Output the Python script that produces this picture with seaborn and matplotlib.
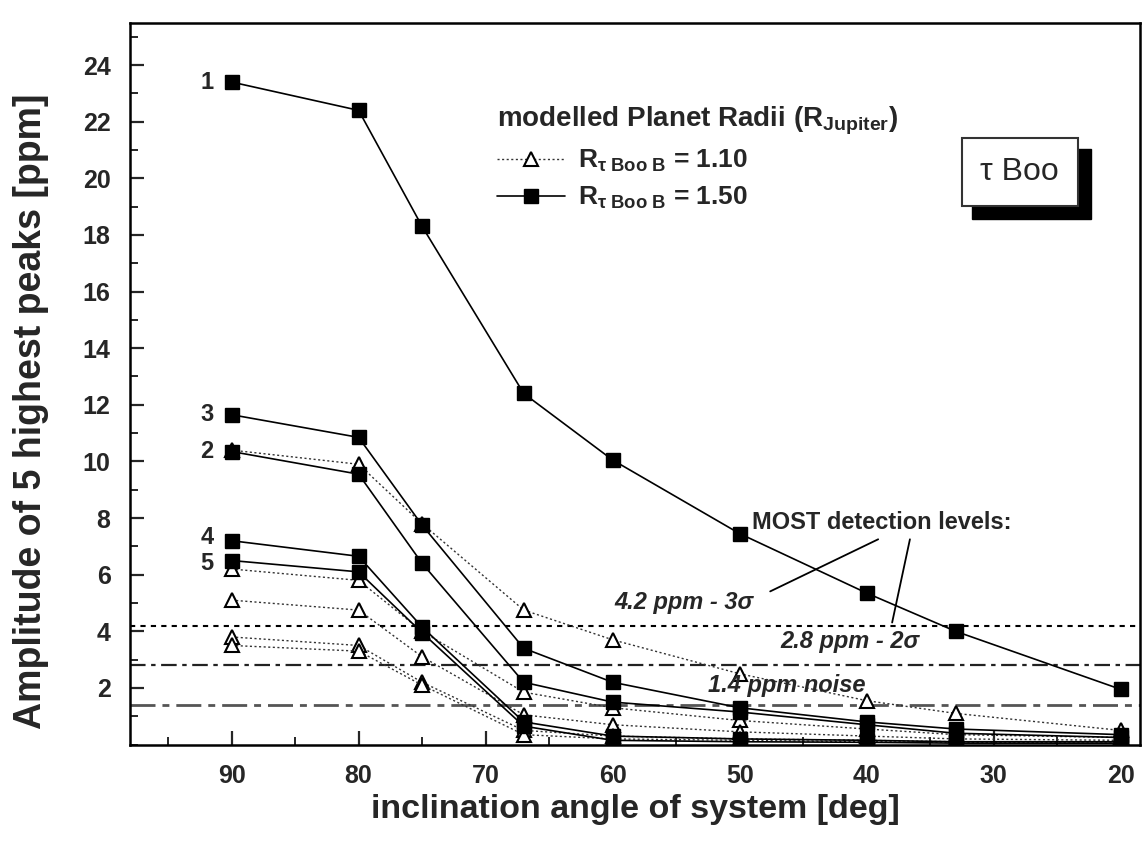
import matplotlib
matplotlib.use("Agg")
import matplotlib.pyplot as plt
from matplotlib.patches import Rectangle
from matplotlib.ticker import MultipleLocator
import seaborn as sns

# inclination angles of the modelled system [deg]
angles = [90, 80, 75, 67, 60, 50, 40, 33, 20]

# amplitudes of the 5 highest peaks [ppm], planet radius 1.50 R_Jupiter
r150_peak1 = [23.4, 22.4, 18.3, 12.4, 10.05, 7.45, 5.35, 4.0, 1.95]
r150_peak2 = [10.35, 9.55, 6.4, 2.2, 1.5, 1.15, 0.7, 0.4, 0.25]
r150_peak3 = [11.65, 10.85, 7.75, 3.4, 2.2, 1.3, 0.8, 0.55, 0.35]
r150_peak4 = [7.2, 6.65, 4.15, 0.8, 0.3, 0.2, 0.15, 0.1, 0.1]
r150_peak5 = [6.5, 6.1, 3.95, 0.65, 0.15, 0.1, 0.08, 0.05, 0.05]

# amplitudes of the 5 highest peaks [ppm], planet radius 1.10 R_Jupiter
r110_peak1 = [10.4, 9.9, 7.8, 4.75, 3.7, 2.5, 1.55, 1.1, 0.5]
r110_peak2 = [6.2, 5.8, 4.0, 1.85, 1.3, 0.85, 0.55, 0.35, 0.25]
r110_peak3 = [5.1, 4.75, 3.1, 1.05, 0.7, 0.45, 0.3, 0.2, 0.15]
r110_peak4 = [3.8, 3.5, 2.2, 0.5, 0.3, 0.2, 0.15, 0.1, 0.1]
r110_peak5 = [3.5, 3.3, 2.1, 0.35, 0.2, 0.15, 0.1, 0.08, 0.05]

peak_names = ["1", "2", "3", "4", "5"]
r150_series = [r150_peak1, r150_peak2, r150_peak3, r150_peak4, r150_peak5]
r110_series = [r110_peak1, r110_peak2, r110_peak3, r110_peak4, r110_peak5]

# MOST detection levels [ppm]
level_3sigma = 4.2
level_2sigma = 2.8
level_noise = 1.4

x_ticks = [90, 80, 70, 60, 50, 40, 30, 20]
y_ticks = [2, 4, 6, 8, 10, 12, 14, 16, 18, 20, 22, 24]

sns.set_style("ticks")
plt.rcParams["font.family"] = ["Liberation Sans", "DejaVu Sans"]
plt.rcParams["mathtext.fontset"] = "custom"
plt.rcParams["mathtext.rm"] = "Liberation Sans"
plt.rcParams["mathtext.bf"] = "Liberation Sans:bold"
plt.rcParams["mathtext.it"] = "Liberation Sans:italic"
plt.rcParams["mathtext.default"] = "bf"

fig = plt.figure(figsize=(11.45, 8.46), dpi=100)
ax = fig.add_axes([0.1135, 0.1199, 0.882, 0.8534])

# 1.10 R_Jupiter models: dotted lines, open triangles
for i, vals in enumerate(r110_series):
    sns.lineplot(x=angles, y=vals, ax=ax, color="#333333", linewidth=1.0,
                 linestyle=(0, (1.5, 1.8)), marker="^", markersize=10,
                 markerfacecolor="white", markeredgecolor="black",
                 markeredgewidth=1.5, sort=False,
                 label=r"R$_{\tau\ Boo\ B}$ = 1.10" if i == 0 else None,
                 legend=False, zorder=3)

# 1.50 R_Jupiter models: solid lines, filled squares
for i, vals in enumerate(r150_series):
    sns.lineplot(x=angles, y=vals, ax=ax, color="black", linewidth=1.2,
                 linestyle="-", marker="s", markersize=10,
                 markerfacecolor="black", markeredgecolor="black",
                 markeredgewidth=1.0, sort=False,
                 label=r"R$_{\tau\ Boo\ B}$ = 1.50" if i == 0 else None,
                 legend=False, zorder=4)

# peak numbers next to the 90 deg points
label_offsets = [0.0, 0.0, 0.0, 0.1, -0.1]
for name, vals, off in zip(peak_names, r150_series, label_offsets):
    ax.text(91.4, vals[0] + off, name, ha="right", va="center",
            fontsize=17, fontweight="bold")

# detection levels
ax.axhline(level_3sigma, color="black", linewidth=1.5,
           linestyle=(0, (2.5, 2.5)), zorder=2)
ax.axhline(level_2sigma, color="#222222", linewidth=1.6,
           linestyle=(0, (7, 2.5, 2, 2.5)), zorder=2)
ax.axhline(level_noise, color="#555555", linewidth=2.0,
           linestyle=(0, (9, 2.5, 2.5, 2.5)), zorder=2)

ax.text(49.0, 7.86, "MOST detection levels:", fontsize=17,
        fontweight="bold", ha="left", va="center")
ax.text(59.9, 5.02, "4.2 ppm - 3σ", fontsize=17, fontweight="bold",
        fontstyle="italic", ha="left", va="center")
ax.text(46.8, 3.64, "2.8 ppm - 2σ", fontsize=17, fontweight="bold",
        fontstyle="italic", ha="left", va="center")
ax.text(52.5, 2.08, "1.4 ppm noise", fontsize=17, fontweight="bold",
        fontstyle="italic", ha="left", va="center")
ax.plot([47.6, 39.1], [5.41, 7.25], color="black", linewidth=1.3)
ax.plot([36.6, 38.0], [7.25, 4.31], color="black", linewidth=1.3)

# star name box with drop shadow
ax.add_patch(Rectangle((0.834, 0.728), 0.118, 0.097, transform=ax.transAxes,
                       facecolor="black", edgecolor="black", zorder=5))
ax.add_patch(Rectangle((0.824, 0.746), 0.1146, 0.094, transform=ax.transAxes,
                       facecolor="white", edgecolor="#333333", linewidth=1.5,
                       zorder=6))
ax.text(0.881, 0.793, "τ Boo", transform=ax.transAxes, fontsize=23,
        ha="center", va="center", zorder=7)

# legend
handles, labels = ax.get_legend_handles_labels()
leg = ax.legend(handles, labels, loc="upper left",
                bbox_to_anchor=(0.35, 0.905), frameon=False,
                title=r"modelled Planet Radii (R$_{Jupiter}$)",
                title_fontproperties={"weight": "bold", "size": 20},
                prop={"weight": "bold", "size": 19}, handlelength=2.6,
                handletextpad=0.5, labelspacing=0.42, borderpad=0,
                alignment="left")
leg.set_zorder(8)

# axes, ticks and labels
ax.set_xlim(98, 18.5)
ax.set_ylim(0, 25.5)
ax.set_xticks(x_ticks)
ax.set_xticklabels([str(v) for v in x_ticks])
ax.set_yticks(y_ticks)
ax.set_yticklabels([str(v) for v in y_ticks])
ax.xaxis.set_minor_locator(MultipleLocator(5))
ax.yaxis.set_minor_locator(MultipleLocator(1))
ax.tick_params(which="major", direction="in", length=10, width=1.6,
               labelsize=18, pad=14)
ax.tick_params(which="minor", direction="in", length=6, width=1.4)
for lab in ax.get_xticklabels() + ax.get_yticklabels():
    lab.set_fontweight("bold")
for side in ["left", "right", "top", "bottom"]:
    ax.spines[side].set_visible(True)
    ax.spines[side].set_linewidth(1.8)
    ax.spines[side].set_color("black")

ax.set_xlabel("inclination angle of system [deg]", fontsize=24.5,
              fontweight="bold", labelpad=4)
ax.set_ylabel("Amplitude of 5 highest peaks [ppm]", fontsize=27,
              fontweight="bold")
ax.yaxis.set_label_coords(-0.08, 0.462)

fig.savefig("out.png", dpi=100)
